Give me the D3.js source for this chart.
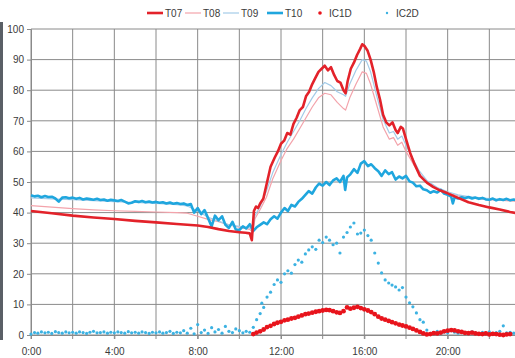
<!DOCTYPE html>
<html>
<head>
<meta charset="utf-8">
<script src="https://cdn.jsdelivr.net/npm/d3@7/dist/d3.min.js"></script>
<style>
	body { margin: 0; background: #fff; }
	svg { display: block; font-family: "Liberation Sans", Arial, sans-serif; }
</style>
</head>
<body>
<div id="chart"></div>
<script>
var seriesNames = ['T07', 'T08', 'T09', 'T10', 'IC1D', 'IC2D'];
var seriesColors = ['#e3222a', '#f3a3ab', '#a3cbe8', '#1fa6de', '#e8141c', '#3cb2e2'];

var xTickHours = [0, 4, 8, 12, 16, 20];
var xTickLabels = ['0:00', '4:00', '8:00', '12:00', '16:00', '20:00'];
var yTicks = [0, 10, 20, 30, 40, 50, 60, 70, 80, 90, 100];

// [hour, value]
var t07 = [[0,40.5],[1,39.8],[2,39.0],[3,38.4],[4,37.9],[5,37.3],[6,36.8],[7,36.3],[8,35.8],[8.5,35.3],[9,34.6],[9.5,34.0],
	[10,33.6],[10.3,33.4],[10.5,33.2],[10.6,31.0],[10.7,40.5],[10.8,42],[10.9,41.5],[11.0,43],[11.15,44.5],[11.3,49],[11.5,55],
	[11.7,58],[11.85,60],[12.0,62.5],[12.15,63.5],[12.3,66],[12.45,65.5],[12.6,69],[12.75,71],[12.9,73.5],[13.05,74.5],[13.2,78],
	[13.35,79.5],[13.5,82],[13.65,84],[13.8,86],[13.95,87],[14.1,88],[14.25,86.5],[14.4,87.5],[14.55,85],[14.7,83],[14.85,82.5],
	[15.0,80],[15.1,79],[15.2,83],[15.35,87],[15.5,89],[15.65,91.5],[15.8,93.5],[15.9,95],[16.0,94.5],[16.15,93],[16.3,90],
	[16.45,86],[16.6,81],[16.75,77],[16.9,72],[17.05,69.5],[17.2,68.5],[17.35,69.5],[17.5,67],[17.6,66],[17.75,68],[17.85,67.5],
	[18.0,64],[18.2,59.5],[18.4,56],[18.67,52],[19.0,49.8],[19.3,48.4],[19.65,47.2],[20.0,46.3],[20.5,44.8],[21.0,43.4],
	[21.5,42.5],[22.0,41.7],[22.5,41],[23.0,40.2],[23.5,39.6],[24,39.2]];

var t08 = [[0,42.3],[1,41.8],[2,41.3],[3,40.9],[4,40.6],[5,40.4],[6,40.2],[7,40],[7.5,39.8],[8,38.8],[8.5,37.8],[9,37],[9.5,36],
	[10,35.2],[10.5,34.5],[10.65,33.5],[10.75,38],[11,41],[11.3,45],[11.6,51],[12,57],[12.3,61],[12.6,64],[12.9,67.5],[13.2,71],
	[13.5,74.5],[13.8,77.5],[14.1,79],[14.4,78.5],[14.7,76],[15.0,74],[15.1,73.5],[15.3,77.5],[15.6,82],[15.9,86],[16.1,85.5],
	[16.3,82],[16.6,75],[16.9,68],[17.2,64],[17.4,64.5],[17.6,62],[17.8,63],[18.0,60],[18.3,56.5],[18.6,53],[19,50],[19.5,47.8],
	[20,46.5],[20.5,45.5],[21,44.8],[22,44.2],[23,43.8],[24,43.5]];

var t09 = [[0,44.8],[1,44.5],[2,44.2],[3,43.9],[4,43.6],[5,43.3],[6,43],[7,42.6],[7.5,42.2],[8,40.5],[8.5,38.5],[9,37.2],[9.5,36],
	[10,35.5],[10.5,35],[10.65,34],[10.75,39],[11,42],[11.3,47],[11.6,53],[12,59],[12.3,63],[12.6,66.5],[12.9,70],[13.2,74],
	[13.5,77.5],[13.8,80.5],[14.1,82.5],[14.4,81.5],[14.7,79.5],[15.0,78.5],[15.1,78],[15.3,82],[15.6,86.5],[15.9,90],[16.1,89.5],
	[16.3,86],[16.6,78],[16.9,70.5],[17.2,66],[17.4,66.5],[17.6,64],[17.8,65],[18.0,62],[18.3,58],[18.6,54],[19,50.5],[19.5,48.2],
	[20,46.8],[20.5,45.8],[21,45.2],[22,44.6],[23,44.2],[24,44]];

var t10 = [[0,45.7],[0.17,45.3],[0.33,45.5],[0.5,45.0],[0.67,45.4],[0.83,45.1],[1,45.2],[1.17,44.6],[1.33,43.6],[1.5,44.9],
	[1.67,45.0],[1.83,44.7],[2,44.9],[2.17,44.5],[2.33,44.8],[2.5,44.3],[2.67,44.6],[2.83,44.4],[3,44.2],[3.17,44.5],[3.33,44.1],
	[3.5,44.3],[3.67,43.9],[3.83,44.2],[4,44.0],[4.17,43.8],[4.33,44.1],[4.5,43.6],[4.67,43.0],[4.83,43.2],[5,43.7],[5.17,43.5],
	[5.33,43.8],[5.5,43.4],[5.67,43.6],[5.83,43.3],[6,43.5],[6.17,43.2],[6.33,43.4],[6.5,43.0],[6.67,43.3],[6.83,42.9],[7,43.1],
	[7.17,42.8],[7.33,43.0],[7.5,42.5],[7.67,42.8],[7.83,40.0],[8,41.5],[8.17,39.5],[8.33,40.8],[8.5,38.2],[8.67,35.5],[8.83,39.0],
	[9,37.5],[9.17,38.8],[9.33,36.0],[9.5,35.0],[9.67,37.0],[9.83,34.5],[10,34.3],[10.17,35.5],[10.33,34.8],[10.5,36.2],[10.67,34.0],
	[10.83,35.2],[11,36.0],[11.17,36.8],[11.33,36.2],[11.5,37.8],[11.67,38.8],[11.83,38.0],[12,40.0],[12.17,41.5],[12.33,40.5],
	[12.5,42.5],[12.67,42.0],[12.83,43.5],[13,44.5],[13.17,45.8],[13.33,47.0],[13.5,46.2],[13.67,48.2],[13.83,49.5],[14,48.8],
	[14.17,50.0],[14.33,49.0],[14.5,50.5],[14.67,51.2],[14.83,50.0],[15,52.0],[15.08,47.4],[15.17,51.5],[15.33,52.5],[15.5,54.2],
	[15.67,53.0],[15.83,56.0],[16,56.8],[16.17,55.2],[16.33,55.8],[16.5,54.5],[16.67,53.5],[16.83,52.0],[17,53.8],[17.17,52.6],
	[17.33,53.2],[17.5,50.8],[17.67,51.8],[17.83,51.2],[18,52.0],[18.17,50.2],[18.33,49.8],[18.5,48.6],[18.67,48.8],[18.83,47.6],
	[19,47.3],[19.17,46.5],[19.33,47.0],[19.5,46.6],[19.67,47.4],[19.83,46.2],[20,45.8],[20.17,45.2],[20.25,43.0],[20.33,45.0],
	[20.5,44.6],[20.67,45.0],[20.83,44.7],[21,45.1],[21.17,44.6],[21.33,44.9],[21.5,44.5],[21.67,44.8],[21.83,44.3],[22,44.2],
	[22.17,44.6],[22.33,44.0],[22.5,44.4],[22.67,44.1],[22.83,44.5],[23,44.0],[23.17,44.3],[23.33,43.9],[23.5,44.2]];

var ic1d = [[10.67,0.3],[10.83,0.8],[11,1.2],[11.17,1.8],[11.33,2.6],[11.5,3.0],[11.67,3.6],[11.83,4.0],[12,4.3],[12.17,4.8],
	[12.33,5.0],[12.5,5.4],[12.67,5.6],[12.83,6.0],[13,6.4],[13.17,6.8],[13.33,7.0],[13.5,7.3],[13.67,7.6],[13.83,7.8],[14,8.0],
	[14.17,8.2],[14.33,8.1],[14.5,7.8],[14.67,7.4],[14.83,7.2],[15,7.8],[15.17,9.0],[15.33,8.6],[15.5,8.9],[15.67,9.2],[15.83,8.8],
	[16,8.4],[16.17,8.0],[16.33,7.5],[16.5,6.8],[16.67,6.0],[16.83,5.4],[17,5.0],[17.17,4.6],[17.33,4.2],[17.5,3.8],[17.67,3.4],
	[17.83,3.1],[18,2.8],[18.17,2.4],[18.33,2.0],[18.5,1.5],[18.67,1.0],[18.83,0.5],[19,0.2],[19.17,0.3],[19.33,0.6],[19.5,0.5],
	[19.67,0.8],[19.83,1.2],[20,1.4],[20.17,1.6],[20.33,1.5],[20.5,1.2],[20.67,1.0],[20.83,0.7],[21,0.6],[21.17,0.8],[21.33,0.5],
	[21.5,0.4],[21.67,0.3],[21.83,0.5],[22,0.2],[22.17,0.4],[22.33,0.3],[22.5,0.1],[22.67,0.0],[22.83,0.2],[23,0.3]];

var ic2d = [[0,0.3],[0.17,0.8],[0.33,0.6],[0.5,1.0],[0.67,0.7],[0.83,0.9],[1,0.5],[1.17,1.1],[1.33,0.8],[1.5,0.6],[1.67,1.0],
	[1.83,0.7],[2,0.9],[2.17,0.6],[2.33,1.0],[2.5,0.8],[2.67,0.5],[2.83,0.9],[3,1.2],[3.17,0.7],[3.33,0.8],[3.5,1.0],[3.67,0.6],
	[3.83,0.9],[4,0.7],[4.17,1.0],[4.33,0.8],[4.5,0.6],[4.67,1.1],[4.83,0.7],[5,0.9],[5.17,0.6],[5.33,1.0],[5.5,0.8],[5.67,0.5],
	[5.83,0.9],[6,0.7],[6.17,1.0],[6.33,0.6],[6.5,0.8],[6.67,1.2],[6.83,0.5],[7,0.9],[7.17,0.7],[7.33,1.4],[7.5,0.6],[7.67,2.2],
	[7.83,0.4],[8,3.4],[8.17,0.8],[8.33,1.6],[8.5,0.5],[8.67,2.4],[8.83,1.0],[9,1.8],[9.17,0.6],[9.33,2.8],[9.5,1.2],[9.67,0.8],
	[9.83,2.0],[10,1.4],[10.17,0.7],[10.33,1.2],[10.5,0.9],
	[10.67,2.5],[10.83,5.0],[11,7.0],[11.08,10.4],[11.17,9.0],[11.33,12.4],[11.5,14.0],[11.67,16.5],[11.83,18.0],[12,17.2],
	[12.17,20.0],[12.33,21.0],[12.5,20.2],[12.67,23.0],[12.83,24.5],[13,23.8],[13.17,26.5],[13.33,27.8],[13.5,28.8],[13.67,28.0],
	[13.83,31.0],[14,30.2],[14.17,32.0],[14.33,31.0],[14.5,29.5],[14.67,30.0],[14.83,26.8],[15,32.0],[15.17,33.5],[15.33,35.3],
	[15.5,36.6],[15.67,33.0],[15.83,33.3],[16,34.3],[16.17,32.5],[16.33,31.0],[16.5,26.8],[16.67,23.5],[16.83,20.3],[17,18.0],
	[17.17,17.0],[17.33,16.3],[17.5,15.7],[17.67,14.7],[17.83,15.5],[18,12.4],[18.17,10.5],[18.33,9.2],[18.5,7.2],[18.67,5.0],
	[18.83,4.2],[19,1.6],[19.17,0.5],[19.33,0.8],[19.5,1.2],[19.67,0.6],[19.83,1.0],[20,0.7],[20.17,1.4],[20.33,0.9],[20.5,0.6],
	[20.67,1.1],[20.83,0.8],[21,0.5],[21.17,1.0],[21.33,0.7],[21.5,0.4],[21.67,0.9],[21.83,0.6],[22,1.0],[22.17,0.5],[22.33,0.8],
	[22.5,1.2],[22.67,3.0],[22.83,0.7],[23,0.9],[23.17,0.6],[23.33,1.0],[23.5,0.8]];

var width = 515, height = 358;

var x = d3.scaleLinear().domain([0, 24]).range([31, 531]);
var y = d3.scaleLinear().domain([0, 100]).range([335, 29]);

var svg = d3.select('#chart').append('svg')
	.attr('width', width)
	.attr('height', height);

// dark strip at the left edge of the scan
svg.append('rect')
	.attr('x', 0).attr('y', 22)
	.attr('width', 3).attr('height', 318)
	.attr('fill', '#5a5f66');

var grid = svg.append('g').attr('class', 'grid');

grid.selectAll('.hgrid')
	.data(yTicks)
	.enter()
	.append('line')
	.attr('x1', x(0)).attr('x2', x(24))
	.attr('y1', function(d) { return y(d) })
	.attr('y2', function(d) { return y(d) })
	.attr('stroke', '#8a8a8a')
	.attr('stroke-width', 1);

grid.selectAll('.vgrid')
	.data(x.ticks(12))
	.enter()
	.append('line')
	.attr('x1', function(d) { return x(d) })
	.attr('x2', function(d) { return x(d) })
	.attr('y1', y(100)).attr('y2', y(0) + 4)
	.attr('stroke', '#8a8a8a')
	.attr('stroke-width', 1);

var yAxis = svg.append('g')
	.attr('transform', 'translate(' + x(0) + ',0)')
	.call(d3.axisLeft(y).tickValues(yTicks).tickSize(4).tickPadding(3));

var xAxis = svg.append('g')
	.attr('transform', 'translate(0,' + y(0) + ')')
	.call(d3.axisBottom(x).tickValues(xTickHours).tickSize(4).tickPadding(9)
		.tickFormat(function(d, i) { return xTickLabels[i] }));

[yAxis, xAxis].forEach(function(a) {
	a.select('.domain').attr('stroke', '#8a8a8a');
	a.selectAll('.tick line').attr('stroke', '#8a8a8a');
	a.selectAll('text').attr('fill', '#3a3a3a').style('font-size', '10px')
		.style('font-family', '"Liberation Sans", Arial, sans-serif');
});

var line = d3.line()
	.x(function(d) { return x(d[0]) })
	.y(function(d) { return y(d[1]) });

var lines = [
	{ data: t08, color: seriesColors[1], w: 1.2 },
	{ data: t09, color: seriesColors[2], w: 1.2 },
	{ data: t10, color: seriesColors[3], w: 2.6 },
	{ data: t07, color: seriesColors[0], w: 2.6 }
];

svg.append('g').selectAll('path')
	.data(lines)
	.enter()
	.append('path')
	.attr('d', function(d) { return line(d.data) })
	.style('fill', 'none')
	.style('stroke', function(d) { return d.color })
	.style('stroke-width', function(d) { return d.w })
	.style('stroke-linejoin', 'round');

svg.append('g').selectAll('circle')
	.data(ic2d)
	.enter()
	.append('circle')
	.attr('cx', function(d) { return x(d[0]) })
	.attr('cy', function(d) { return y(d[1]) })
	.attr('r', 1.6)
	.attr('fill', seriesColors[5]);

svg.append('g').selectAll('circle')
	.data(ic1d)
	.enter()
	.append('circle')
	.attr('cx', function(d) { return x(d[0]) })
	.attr('cy', function(d) { return y(d[1]) })
	.attr('r', 2.4)
	.attr('fill', seriesColors[4]);

// legend
var legendX = [165, 203, 241, 285, 329, 396];
var legendW = [2.6, 1.2, 1.2, 2.6];

var legend = svg.append('g').selectAll('g')
	.data(seriesNames)
	.enter()
	.append('g')
	.attr('transform', function(d, i) { return 'translate(' + legendX[i] + ',14)' });

legend.each(function(d, i) {
	var g = d3.select(this);
	if (i < 4) {
		g.append('line')
			.attr('x1', -18).attr('x2', -2)
			.attr('y1', -1).attr('y2', -1)
			.attr('stroke', seriesColors[i])
			.attr('stroke-width', legendW[i]);
	} else {
		g.append('circle')
			.attr('cx', -9).attr('cy', -1)
			.attr('r', i == 4 ? 1.8 : 1.2)
			.attr('fill', seriesColors[i]);
	}
	g.append('text')
		.attr('x', 0).attr('y', 3)
		.attr('fill', '#3a3a3a')
		.style('font-size', '10px')
		.text(d);
});
</script>
</body>
</html>
